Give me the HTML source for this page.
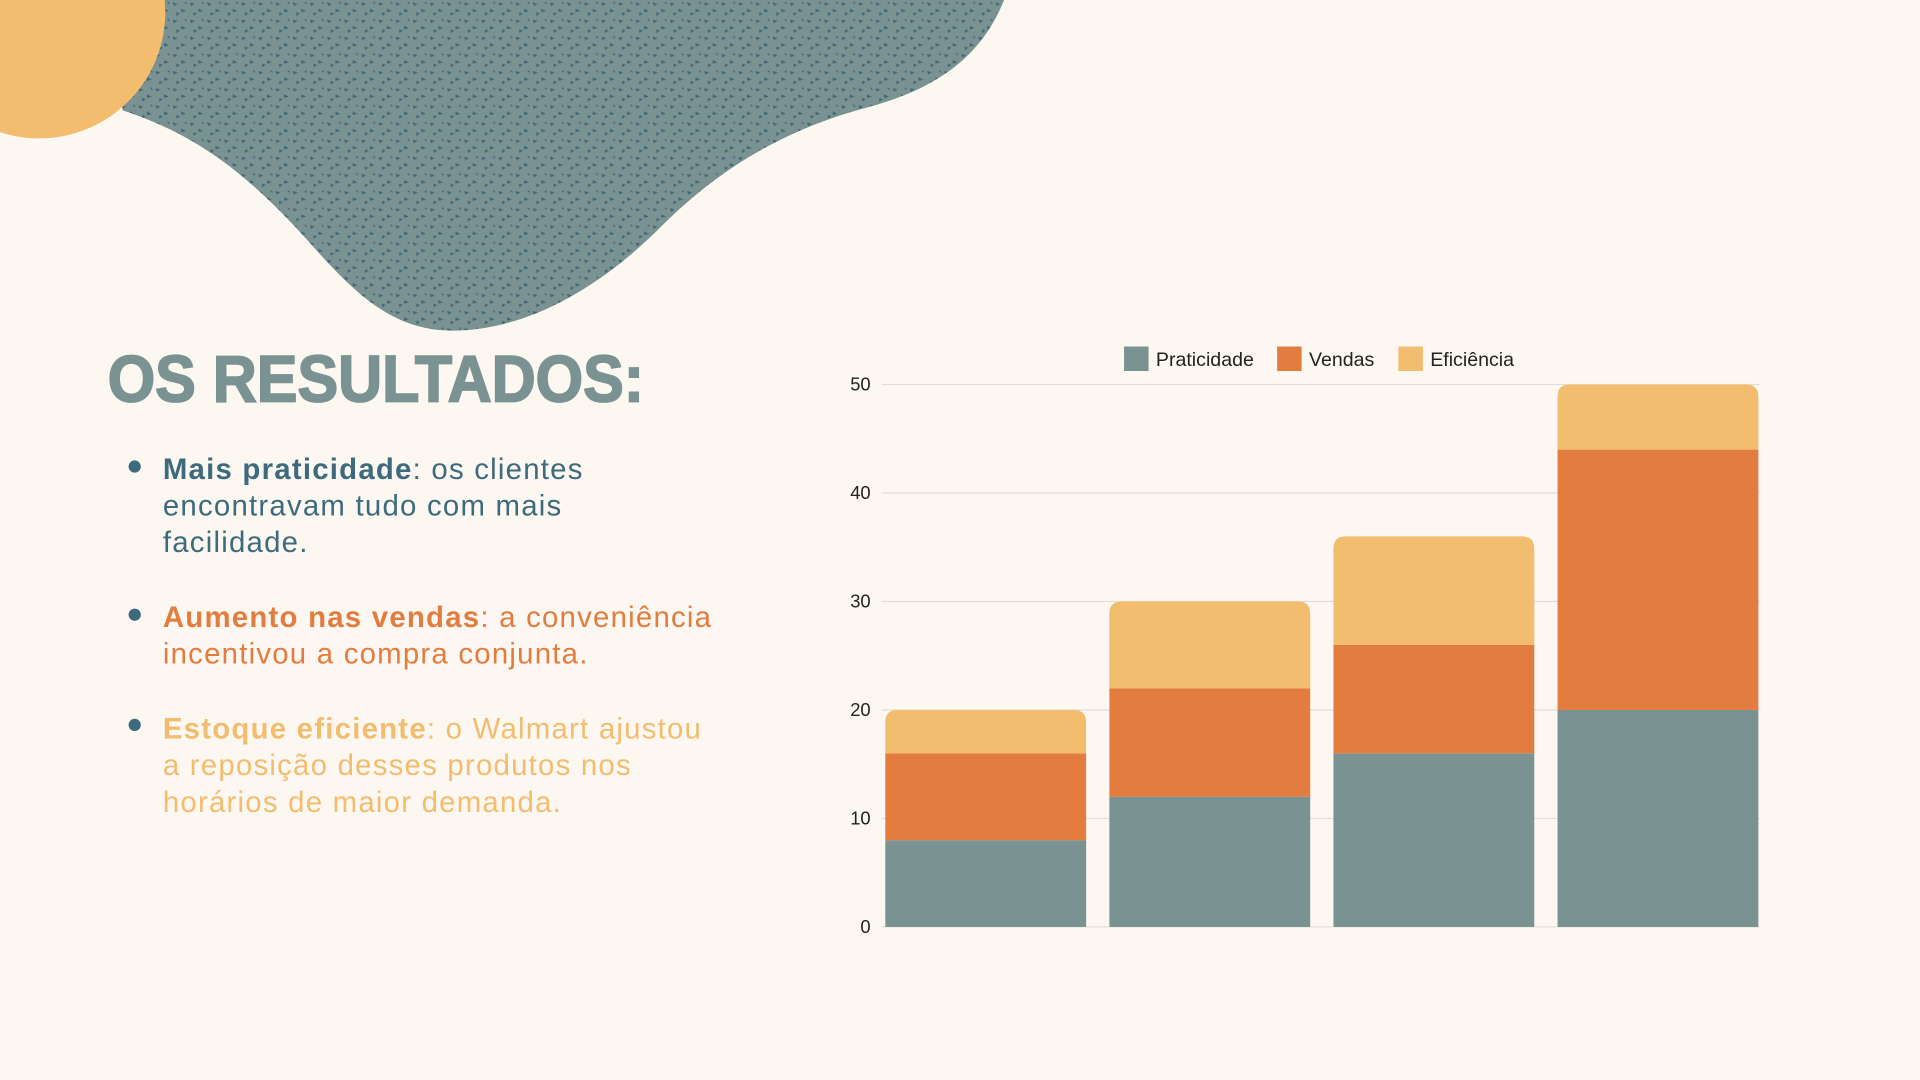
<!DOCTYPE html>
<html><head><meta charset="utf-8"><style>
html,body{margin:0;padding:0;background:#fcf7f1;}
svg{display:block;}
text{font-family:"Liberation Sans",sans-serif;}
</style></head><body>
<svg id="page" width="1920" height="1080" viewBox="0 0 1568 882" xmlns="http://www.w3.org/2000/svg">
<defs>
<pattern id="tex" width="14" height="14" patternUnits="userSpaceOnUse">
<rect width="14" height="14" fill="#7a9292"/>
<path d="M1 2l4 1-3 2z M8 7l4 2-4 1z M4 10l3 1-3 2z M11 1l2 2-2 0z" fill="#3f6878"/>
</pattern>
</defs>
<rect width="1568" height="882" fill="#fcf7f1"/>
<path fill="url(#tex)" d="M100 0 L820 0 C800 50 760 75 700 90 C630 110 580 145 540 185 C480 245 420 270 370 270 C320 270 290 240 250 195 C200 140 160 110 100 90 Z"/>
<circle cx="32" cy="10" r="103" fill="#f2bd6e"/>
<text x="88" y="328" font-size="54" font-weight="bold" fill="#7a9292" stroke="#7a9292" stroke-width="1.5" textLength="438" lengthAdjust="spacingAndGlyphs">OS RESULTADOS:</text>
<g font-size="24" letter-spacing="1">
<circle cx="110" cy="381" r="5" fill="#3d6a7d"/>
<text x="133" y="391" fill="#3d6a7d"><tspan font-weight="bold">Mais praticidade</tspan>: os clientes</text>
<text x="133" y="421" fill="#3d6a7d">encontravam tudo com mais</text>
<text x="133" y="451" fill="#3d6a7d">facilidade.</text>
<circle cx="110" cy="502" r="5" fill="#3d6a7d"/>
<text x="133" y="512" fill="#e27d3f"><tspan font-weight="bold">Aumento nas vendas</tspan>: a conveniência</text>
<text x="133" y="542" fill="#e27d3f">incentivou a compra conjunta.</text>
<circle cx="110" cy="592" r="5" fill="#3d6a7d"/>
<text x="133" y="603" fill="#f2bd6e"><tspan font-weight="bold">Estoque eficiente</tspan>: o Walmart ajustou</text>
<text x="133" y="633" fill="#f2bd6e">a reposição desses produtos nos</text>
<text x="133" y="663" fill="#f2bd6e">horários de maior demanda.</text>
</g>
<g id="chart"></g>
</svg>
<script>
const categories = ["A","B","C","D"];
const praticidade = [8,12,16,20];
const vendas = [8,10,10,24];
const eficiencia = [4,8,10,6];
const ticks = [0,10,20,30,40,50];
const seriesNames = ["Praticidade","Vendas","Eficiência"];
const colors = ["#7a9292","#e27d3f","#f2bd6e"];

const NS="http://www.w3.org/2000/svg";
const g=document.getElementById('chart');
const x0=723, step=183, bw=164, plotL=720, plotR=1437;
const yScale=v=>757-(v/50)*443;
function mk(tag,attrs){const e=document.createElementNS(NS,tag);for(const k in attrs)e.setAttribute(k,attrs[k]);g.appendChild(e);return e;}
ticks.forEach(t=>{
  const l=mk('line',{x1:plotL,x2:plotR,y1:yScale(t),y2:yScale(t),stroke:'#e2ddd6','stroke-width':1});
  
  
  const tx=mk('text',{x:711,y:yScale(t)+5,'text-anchor':'end','font-size':15,fill:'#222'});
  tx.textContent=t;
  
  
});
const series=[praticidade,vendas,eficiencia];
categories.forEach((c,i)=>{
  let base=0;
  const x=x0+i*step;
  series.forEach((s,j)=>{
    const y1=yScale(base), y2=yScale(base+s[i]);
    let el;
    if(j===series.length-1){
      const r=10;
      el=mk('path',{d:`M${x} ${y1} L${x} ${y2+r} Q${x} ${y2} ${x+r} ${y2} L${x+bw-r} ${y2} Q${x+bw} ${y2} ${x+bw} ${y2+r} L${x+bw} ${y1} Z`,fill:colors[j]});
    } else {
      el=mk('rect',{x:x,y:y2,width:bw,height:y1-y2,fill:colors[j]});
    }
    
    
    base+=s[i];
  });
});
const lx=[918,1043,1142];
seriesNames.forEach((n,j)=>{
  const r=mk('rect',{x:lx[j],y:283,width:20,height:20,fill:colors[j]});
  
  
  const t=mk('text',{x:lx[j]+26,y:299,'font-size':16,fill:'#222'});
  t.textContent=n;
  
  
});
</script>
</body></html>
